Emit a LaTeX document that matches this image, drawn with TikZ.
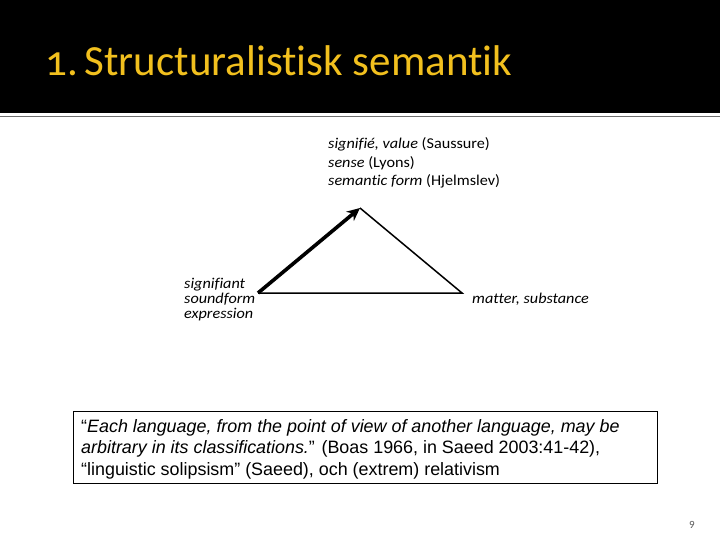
\documentclass[tikz,border=0pt]{standalone}
\usepackage{fontspec}
\setmainfont[Ligatures=NoCommon]{Carlito}
\newfontfamily\titlefont[Numbers=OldStyle,Ligatures=NoCommon]{Carlito}
\newfontfamily\lblfont[Ligatures=NoCommon,FakeStretch=1.08]{Carlito}
\newfontfamily\arialfont{Liberation Sans}
\usetikzlibrary{arrows.meta}
\definecolor{titlegold}{RGB}{242,192,30}
\definecolor{rulegray}{RGB}{110,110,110}
\definecolor{pagegray}{RGB}{90,90,90}
\tikzset{
  lbl/.style={inner sep=0pt, anchor=base west, font=\lblfont\fontsize{15}{18}\selectfont, align=left},
  quote/.style={inner sep=0pt, anchor=base west, font=\arialfont\fontsize{17.9}{21}\selectfont, align=left},
  thin edge/.style={line width=1.5pt, black},
  thick arrow/.style={line width=3.6pt, black, -{Stealth[length=13pt,width=12pt]}},
}
\begin{document}
\begin{tikzpicture}[x=1pt,y=-1pt]
\useasboundingbox (0,0) rectangle (720,540);
\fill[white] (0,0) rectangle (720,540);
\fill[black] (0,0) rectangle (720,113);
\draw[rulegray, line width=1.5pt] (0,116.5) -- (720,116.5);
\node[inner sep=0pt, anchor=base west, text=titlegold, font=\titlefont\fontsize{43}{50}\selectfont] (title) at (45,76) {1.\hspace{7pt}Structuralistisk semantik};

\node[lbl] (top1) at (328,149) {\textit{signifié, value} (Saussure)};
\node[lbl] (top2) at (328,167.5) {\textit{sense} (Lyons)};
\node[lbl] (top3) at (328,186) {\textit{semantic form} (Hjelmslev)};

\node[lbl] (left1) at (184,288) {\textit{signifiant}};
\node[lbl] (left2) at (184,303) {\textit{soundform}};
\node[lbl] (left3) at (184,318) {\textit{expression}};

\node[lbl] (right1) at (472,303) {\textit{matter, substance}};

\coordinate (L) at (258,293);
\coordinate (A) at (360,208);
\coordinate (R) at (462,293);
\draw[thin edge] (A) -- (R) -- (L);
\draw[thick arrow] (L) -- (A);

\draw[black, line width=1pt] (73,411) rectangle (657,483);
\node[quote] (q1) at (81,432) {“\textit{Each language, from the point of view of another language, may be}};
\node[quote] (q2) at (81,453.5) {\textit{arbitrary in its classifications.}” (Boas 1966, in Saeed 2003:41-42),};
\node[quote] (q3) at (81,475) {“linguistic solipsism” (Saeed), och (extrem) relativism};

\node[inner sep=0pt, anchor=base west, text=pagegray, font=\fontsize{11}{13}\selectfont] (pg) at (689,528) {9};
\end{tikzpicture}
\end{document}
